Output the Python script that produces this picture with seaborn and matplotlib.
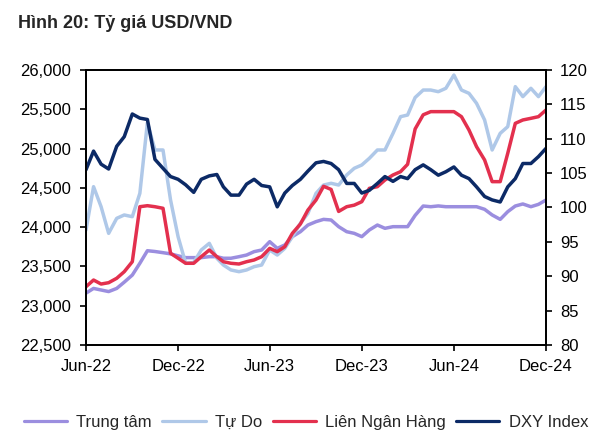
import matplotlib
matplotlib.use("Agg")
import matplotlib.pyplot as plt
import matplotlib.dates as mdates
from matplotlib.ticker import FuncFormatter
from matplotlib.lines import Line2D
import seaborn as sns
import pandas as pd

# ---- data (semi-monthly readings, 1st and 16th of each month) ----
dates = []
for y in (2022, 2023, 2024):
    for m in range(1, 13):
        if (y == 2022 and m < 6) or (y == 2024 and m > 11):
            continue
        dates.append(pd.Timestamp(y, m, 1))
        dates.append(pd.Timestamp(y, m, 16))
dates.append(pd.Timestamp(2024, 12, 1))

trung_tam = [23160, 23220, 23200, 23180, 23220, 23300, 23390, 23540, 23700, 23690,
             23675, 23660, 23635, 23612, 23612, 23612, 23624, 23624, 23604, 23604,
             23624, 23645, 23688, 23709, 23815, 23730, 23773, 23879, 23942, 24027,
             24070, 24099, 24091, 24006, 23942, 23921, 23879, 23964, 24027, 23985,
             24006, 24006, 24006, 24150, 24269, 24260, 24270, 24260, 24260, 24260,
             24260, 24260, 24227, 24155, 24099, 24197, 24269, 24295, 24260, 24290, 24345]

tu_do = [23964, 24515, 24260, 23921, 24112, 24155, 24133, 24430, 25330, 24982,
         24982, 24345, 23878, 23540, 23550, 23709, 23794, 23604, 23518, 23455,
         23433, 23455, 23497, 23518, 23709, 23645, 23730, 23879, 24049, 24176,
         24430, 24536, 24558, 24536, 24664, 24749, 24791, 24876, 24982, 24982,
         25194, 25406, 25427, 25650, 25745, 25745, 25724, 25767, 25936, 25745,
         25703, 25576, 25364, 24982, 25194, 25279, 25788, 25661, 25767, 25661, 25788]

lien_ngan_hang = [23242, 23327, 23276, 23293, 23349, 23433, 23560, 24260, 24273, 24260,
                  24240, 23667, 23604, 23540, 23540, 23624, 23709, 23624, 23560, 23540,
                  23531, 23560, 23582, 23624, 23730, 23688, 23751, 23921, 24040, 24218,
                  24345, 24520, 24480, 24200, 24260, 24280, 24324, 24494, 24515, 24600,
                  24664, 24706, 24800, 25250, 25430, 25470, 25470, 25470, 25470, 25406,
                  25236, 25024, 24855, 24579, 24579, 24940, 25321, 25364, 25385, 25406, 25491]

dxy = [105.5, 108.2, 106.3, 105.6, 108.9, 110.3, 113.6, 113.0, 112.8, 107.0,
       105.7, 104.5, 104.1, 103.3, 102.2, 104.1, 104.6, 104.8, 103.0, 101.8,
       101.8, 103.4, 104.1, 103.2, 103.0, 100.1, 102.1, 103.2, 104.1, 105.3,
       106.5, 106.7, 106.4, 105.5, 103.5, 103.5, 102.1, 102.5, 103.5, 104.5,
       103.8, 104.5, 104.2, 105.5, 106.2, 105.5, 104.7, 105.2, 105.9, 104.7,
       104.2, 103.0, 101.6, 101.1, 100.8, 103.0, 104.2, 106.4, 106.4, 107.4, 108.6]

series_names = ["Trung tâm", "Tự Do", "Liên Ngân Hàng", "DXY Index"]
colors = ["#9B8EDF", "#AFC8E8", "#E3304E", "#0C2A66"]
x_ticks = ["2022-06-01", "2022-12-01", "2023-06-01", "2023-12-01", "2024-06-01", "2024-12-01"]

# ---- style ----
sns.set_style("ticks")
plt.rcParams["font.family"] = ["Liberation Sans", "DejaVu Sans"]

fig = plt.figure(figsize=(6, 4.4), dpi=100)
ax = fig.add_axes([86 / 600, 1 - 345 / 440, 460 / 600, 275 / 440])
ax2 = ax.twinx()

lw = 2.5
sns.lineplot(x=dates, y=trung_tam, ax=ax, color=colors[0], linewidth=lw, legend=False)
sns.lineplot(x=dates, y=tu_do, ax=ax, color=colors[1], linewidth=lw, legend=False)
sns.lineplot(x=dates, y=lien_ngan_hang, ax=ax, color=colors[2], linewidth=lw, legend=False)
sns.lineplot(x=dates, y=dxy, ax=ax2, color=colors[3], linewidth=lw, legend=False)

ax.set_xlim(pd.Timestamp(x_ticks[0]), pd.Timestamp(x_ticks[-1]))
ax.set_ylim(22500, 26000)
ax.set_yticks(range(22500, 26001, 500))
ax.yaxis.set_major_formatter(FuncFormatter(lambda v, p: f"{v:,.0f}"))
ax2.set_ylim(80, 120)
ax2.set_yticks(range(80, 121, 5))
ax.set_xticks([pd.Timestamp(t) for t in x_ticks])
ax.xaxis.set_major_formatter(mdates.DateFormatter("%b-%y"))

for a in (ax, ax2):
    a.set_xlabel("")
    a.set_ylabel("")
    for s in a.spines.values():
        s.set_visible(True)
        s.set_color("black")
        s.set_linewidth(1.3)

ax.tick_params(axis="y", left=True, right=False, direction="out", length=4, width=1.2,
               pad=7, labelsize=12, colors="black")
ax.tick_params(axis="x", bottom=True, top=False, direction="out", length=4, width=1.2,
               pad=6, labelsize=12, colors="black")
ax2.tick_params(axis="y", right=True, left=False, direction="out", length=4, width=1.2,
                pad=6, labelsize=12, colors="black")

fig.text(18 / 600, 1 - 28 / 440, "Hình 20: Tỷ giá USD/VND", fontsize=13,
         fontweight="bold", va="baseline", ha="left")

handles = [Line2D([0], [0], color=c, lw=2.3) for c in colors]
fig.legend(handles, series_names, loc="center left", bbox_to_anchor=(24 / 600, 1 - 422 / 440),
           ncol=4, frameon=False, fontsize=12, handlelength=2.6, handletextpad=0.55,
           columnspacing=0.62, borderpad=0, borderaxespad=0)

fig.savefig("out.png", dpi=100)
